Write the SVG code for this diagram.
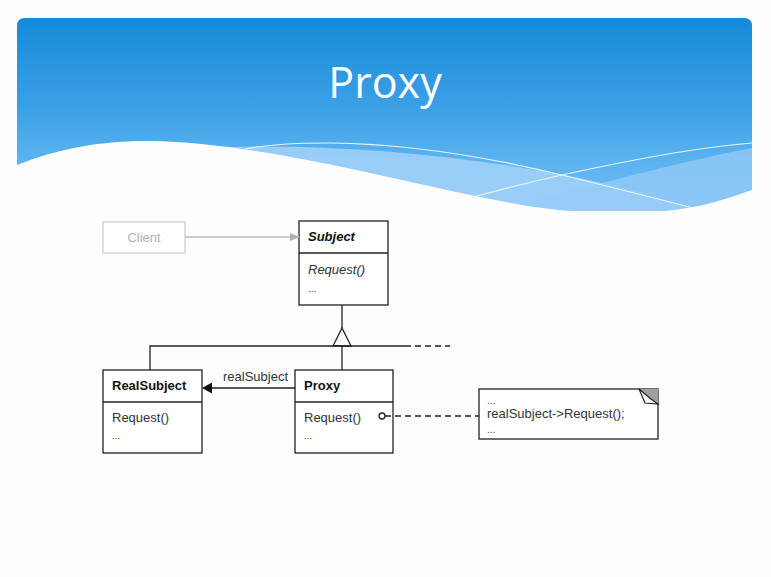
<svg xmlns="http://www.w3.org/2000/svg" width="771" height="577" viewBox="0 0 771 577">
<defs>
<linearGradient id="sky" x1="0" y1="0" x2="0" y2="1">
<stop offset="0" stop-color="#168ad8"/>
<stop offset="0.45" stop-color="#3ba0e6"/>
<stop offset="0.75" stop-color="#5cb4f0"/>
<stop offset="1" stop-color="#6cbdf3"/>
</linearGradient>
<marker id="grayArrow" markerWidth="10" markerHeight="8" refX="9" refY="4" orient="auto" markerUnits="userSpaceOnUse">
<path d="M0,0 L10,4 L0,8 Z" fill="#b0b0b0"/>
</marker>
<style>
.box{fill:#fff;stroke:#222;stroke-width:1.3}
.ln{stroke:#222;stroke-width:1.3;fill:none}
.t{font-family:"Liberation Sans",Arial,sans-serif;font-size:13px;fill:#333}
.b{font-weight:bold;fill:#111}
.i{font-style:italic}
.dots{font-family:"Liberation Sans",Arial,sans-serif;font-size:10px;fill:#444}
</style>
</defs>
<rect x="0" y="0" width="771" height="577" fill="#fefdfe"/>
<!-- header banner -->
<path d="M17,26 Q17,18 25,18 L744,18 Q752,18 752,26 L752,212 L17,212 Z" fill="url(#sky)"/>
<path d="M17,175 C150,138 350,136 565,175 C620,186 670,200 700,212 L17,212 Z" fill="#a0d0fa" opacity="0.9"/>
<path d="M520,205 C610,180 690,160 752,148 L752,212 L520,212 Z" fill="#95cbf7" opacity="0.75"/>
<path d="M245,149 C270,144 300,143 330,143 C420,144 500,160 562,175 C610,187 655,198 693,208" fill="none" stroke="#e6f3fd" stroke-width="1.2"/>
<path d="M473,197 C500,190 530,182 562,175 C630,160 700,147 752,143" fill="none" stroke="#e6f3fd" stroke-width="1.2"/>
<path d="M17,165 C60,148 100,141 150,141 C250,142 380,176 480,197 C520,205 550,210 575,211 L665,211 C700,208 730,198 752,190 L752,220 L17,220 Z" fill="#fefdfe"/>
<text x="385" y="98" text-anchor="middle" font-family="'Open Sans','Noto Sans',sans-serif" font-size="43" fill="#ffffff">Proxy</text>

<g id="client">
<rect x="103" y="222" width="82" height="31" fill="#fff" stroke="#cfcfcf" stroke-width="1.3"/>
<text x="144" y="242" text-anchor="middle" font-family="'Liberation Sans',Arial,sans-serif" font-size="13" fill="#b0b0b0">Client</text>
</g>

<g id="subject">
<rect class="box" x="299" y="221" width="89" height="84"/>
<line class="ln" x1="299" y1="253" x2="388" y2="253"/>
<text class="t b i" x="308" y="241">Subject</text>
<text class="t i" x="308" y="274">Request()</text>
<text class="dots" x="308" y="292">...</text>
</g>

<g id="realsubject">
<rect class="box" x="103" y="370" width="99" height="83"/>
<line class="ln" x1="103" y1="402" x2="202" y2="402"/>
<text class="t b" x="112" y="390">RealSubject</text>
<text class="t" x="112" y="422">Request()</text>
<text class="dots" x="112" y="439">...</text>
</g>

<g id="proxy">
<rect class="box" x="295" y="370" width="98" height="83"/>
<line class="ln" x1="295" y1="402" x2="393" y2="402"/>
<text class="t b" x="304" y="390">Proxy</text>
<text class="t" x="304" y="422">Request()</text>
<text class="dots" x="304" y="439">...</text>
</g>

<g id="note">
<rect class="box" x="479" y="389" width="179" height="50"/>
<path d="M639,389 L658,389 L658,404 Z" fill="#a0a0a0"/>
<path d="M639,389 L645,403 L658,404 L651,399 Z" fill="#fff" stroke="#222" stroke-width="1.2"/>
<text class="dots" x="487" y="404">...</text>
<text class="t" x="487" y="418">realSubject-&gt;Request();</text>
<text class="dots" x="487" y="433">...</text>
</g>

<!-- connectors -->
<g id="connectors">
<line x1="185" y1="237" x2="299" y2="237" stroke="#b8b8b8" stroke-width="1.3" marker-end="url(#grayArrow)"/>
<line class="ln" x1="342" y1="305" x2="342" y2="328"/>
<path d="M342,328 L333,346 L351,346 Z" fill="#fff" stroke="#222" stroke-width="1.3"/>
<path class="ln" d="M150,370 L150,346 L405,346"/>
<line class="ln" x1="405" y1="346" x2="450" y2="346" stroke-dasharray="6,4"/>
<line class="ln" x1="342" y1="346" x2="342" y2="370"/>
<line class="ln" x1="295" y1="388" x2="212" y2="388"/>
<path d="M212,382.5 L202,388 L212,393.5 Z" fill="#111"/>
<text class="t" x="223" y="381">realSubject</text>
<circle cx="382" cy="416" r="3" fill="#fff" stroke="#222" stroke-width="1.3"/>
<line class="ln" x1="385" y1="416" x2="479" y2="416" stroke-dasharray="6,4"/>
</g>
</svg>
